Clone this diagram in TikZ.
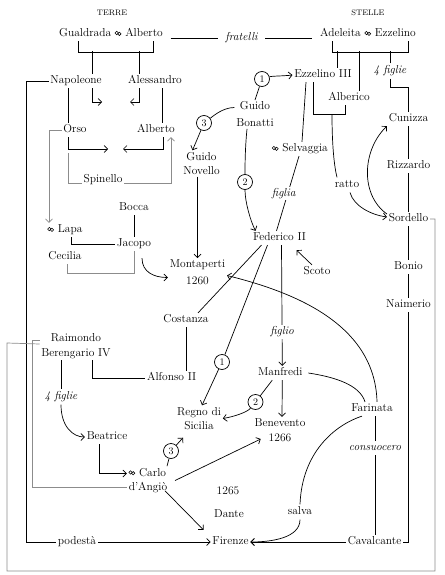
\documentclass[tikz,border=0pt]{standalone}
\usepackage{fontspec}
\usepackage{pict2e}
\usetikzlibrary{arrows.meta, calc}
\newcommand{\wed}{{\setlength{\unitlength}{1pt}\linethickness{0.55pt}%
  \begin{picture}(6.6,5)(-1.8,-1)\put(0,2.7){\circle{3.4}}\put(2.6,1.9){\circle{3.4}}\end{picture}}}

\begin{document}
\begin{tikzpicture}[x=1pt,y=-1pt,line width=0.7pt,
    font=\fontsize{11.5}{14.5}\selectfont,
    pers/.style={inner sep=1.5pt,text height=8pt,text depth=2.5pt},
    two/.style={inner sep=1.5pt,align=center},
    head/.style={font=\fontsize{8}{9}\selectfont},
    lbl/.style={fill=white,inner sep=2pt,text height=8pt,text depth=2.5pt},
    ilbl/.style={lbl,font=\fontsize{11.5}{14.5}\selectfont\itshape},
    num/.style={circle,draw,fill=white,inner sep=0pt,minimum size=15pt,
                font=\fontsize{10}{12}\selectfont},
    arr/.style={-{Straight Barb[length=3.5pt,width=7pt]}},
    gry/.style={draw=black!45},
    garr/.style={arr,gry}
  ]
  \useasboundingbox (0,0) rectangle (444,575);

  % Terre
  \node[head] (terre) at (112,13) {TERRE};
  \node[pers] (gual) at (111,34) {Gualdrada \wed\ Alberto};
  \node[pers] (napo) at (76,81) {Napoleone};
  \node[pers] (ales) at (155,81) {Alessandro};
  \node[pers] (orso) at (75,130) {Orso};
  \node[pers] (albt) at (156,130) {Alberto};
  \node[pers] (spin) at (103,180) {Spinello};
  \node[pers] (bocca) at (134,208) {Bocca};
  \node[pers] (lapa) at (65,230) {\wed\ Lapa};
  \node[pers] (jacopo) at (134,244) {Jacopo};
  \node[pers] (cecilia) at (65,257) {Cecilia};
  \node[two] (guidon) at (201.5,163.5) {Guido\\Novello};
  \node[two] (monta) at (197.5,272.5) {Montaperti\\[2.5pt]1260};
  \node[pers] (costanza) at (186,320) {Costanza};
  \node[two] (raimondo) at (76,346) {Raimondo\\Berengario IV};
  \node[pers] (alfonso) at (171.7,378) {Alfonso II};
  \node[ilbl] (figlieb) at (61,397) {4 figlie};
  \node[pers] (beatrice) at (107,437) {Beatrice};
  \node[two,align=left] (carlo) at (148,480.5) {\wed\ Carlo\\d'Angiò};
  \node[two] (regno) at (199,418.5) {Regno di\\Sicilia};
  \node[pers] (anno) at (228,492) {1265};
  \node[pers] (dante) at (229,515) {Dante};
  \node[pers] (fire) at (230.5,542) {Firenze};
  \node[lbl] (pod) at (77,542) {podestà};

  % Stelle
  \node[head] (stelle) at (368,13) {STELLE};
  \node[pers] (adel) at (368,34) {Adeleita \wed\ Ezzelino};
  \node[pers] (ezz3) at (323,75) {Ezzelino III};
  \node[pers] (alberico) at (349,98) {Alberico};
  \node[ilbl] (figlie) at (390,71) {4 figlie};
  \node[two] (guidob) at (255,114.5) {Guido\\[2.5pt]Bonatti};
  \node[pers] (cunizza) at (408.5,119) {Cunizza};
  \node[pers] (rizzardo) at (408.5,166) {Rizzardo};
  \node[pers] (sordello) at (408.5,219) {Sordello};
  \node[pers] (bonio) at (408.5,267) {Bonio};
  \node[pers] (naimerio) at (408.5,305) {Naimerio};
  \node[pers] (selv) at (300,149) {\wed\ Selvaggia};
  \node[lbl] (ratto) at (347,185) {ratto};
  \node[pers] (federico) at (279.5,238) {Federico II};
  \node[pers] (scoto) at (317,272) {Scoto};
  \node[pers] (manfredi) at (280.3,373) {Manfredi};
  \node[two] (beneve) at (280,430) {Benevento\\1266};
  \node[pers] (farinata) at (372,409) {Farinata};
  \node[lbl] (salva) at (300,512) {salva};
  \node[pers] (cav) at (374.5,542) {Cavalcante};

  \node[num] (c1a) at (262,79) {1};
  \node[num] (c3a) at (204,123) {3};
  \node[num] (c2a) at (245,182) {2};
  \node[num] (c1b) at (222,362) {1};
  \node[num] (c2b) at (255.5,402) {2};
  \node[num] (c3b) at (171,451) {3};

  \coordinate (ka) at (102,102);
  \coordinate (kb) at (130,102);
  \coordinate (kc) at (108,149);
  \coordinate (kd) at (123,149);
  \coordinate (fse) at (435,571);
  \coordinate (fw) at (7,343);

  % Terre connectors
  \draw ([xshift=-33pt]gual.south) -- ++(0,11) -| ([xshift=42pt]gual.south);
  \draw ([xshift=16pt]napo.north) -- ++(0,-22.5); \draw ([xshift=-16pt]ales.north) -- ++(0,-22.5);
  \draw[arr] ([xshift=16pt]napo.south) |- (ka); \draw[arr] ([xshift=-16pt]ales.south) |- (kb);
  \draw[shorten <=6pt,shorten >=6pt] ([yshift=-4pt]gual.east) -- node[ilbl,inner xsep=7pt]{fratelli} ([yshift=-4pt]adel.west);
  \draw ([xshift=-8pt]napo.south) -- ([xshift=-7pt]orso.north);
  \draw ([xshift=7pt]ales.south) -- ([xshift=6pt]albt.north);
  \draw[garr] (orso.west) -| ([xshift=-16pt]lapa.north);
  \draw[arr] ([xshift=-7pt]orso.south) |- (kc); \draw[arr] ([xshift=7pt]albt.south) |- (kd);
  \draw[gry] ([xshift=-7pt]orso.south) ++(0,16) |- ([yshift=-3pt]spin.west);
  \draw[garr] ([yshift=-3pt]spin.east) -| ([xshift=15pt]albt.south);
  \draw (napo.west) -- ++(-22,0) |- (pod.west); \draw[arr] (pod.east) -- (fire.west);
  \draw (bocca) -- (jacopo);
  \draw ([xshift=6pt]lapa.south) |- (jacopo.west);
  \draw[gry] ([xshift=2pt]cecilia.south) -- ++(0,9) -| (jacopo.south);
  \draw[arr] ($(jacopo.south)+(8,7)$) .. controls +(0,14) and +(-14,0) .. ([yshift=-5pt]monta.west);
  \draw[arr] (guidon.south -| monta.north) -- (monta.north);

  % Stelle connectors
  \draw ([xshift=-36pt]adel.south) -- ++(0,11) -| ([xshift=40pt]adel.south);
  \draw ([xshift=14pt]ezz3.north) -- ++(0,-16.5);
  \draw ([xshift=10pt]alberico.north) -- ++(0,-39.5);
  \draw (figlie.north) -- ++(0,-12.5);
  \draw (figlie.south) -- ++(0,9) -| (cunizza.north);
  \draw (cunizza) -- (rizzardo) -- (sordello) -- (bonio) -- (naimerio) |- (cav.east);
  \draw ([xshift=-17pt]ezz3.south) -- ([xshift=2pt]selv.north);
  \draw ([xshift=-1pt]selv.south) -- node[ilbl,xshift=-4pt,inner sep=1pt]{figlia} ([xshift=-3pt]federico.north);
  \draw ([xshift=-10pt]ezz3.south) -- ++(0,32) coordinate (eb) -| ([xshift=-4pt]alberico.south);
  \draw ($(eb)+(19,0)$) .. controls +(0,30) and +(-3,-12) .. ([xshift=-10pt]ratto.north);
  \draw[arr] ([xshift=3pt]ratto.south) .. controls +(4,14) and +(-15,-2) .. ([yshift=2pt]sordello.west);
  \draw[arr] ([yshift=5pt]sordello.west) .. controls (360,195) and (362,150) .. (cunizza.south west);
  \draw[gry] (sordello.east) -| (fse) -| (fw) -- ([yshift=2pt]raimondo.west);

  \draw (guidob.north) -- (c1a);
  \draw[arr] (c1a) .. controls +(10,-3) and +(-8,1) .. (ezz3.west);
  \draw ([yshift=7pt]guidob.west) .. controls +(-12,0) and +(8,-6) .. (c3a);
  \draw[arr] (c3a) -- ([xshift=-9pt]guidon.north);
  \draw ([xshift=-8pt]guidob.south) .. controls +(-2,20) and +(0,-15) .. (c2a);
  \draw[arr] (c2a) .. controls +(0,20) and +(-5,-10) .. ([xshift=-24pt]federico.north);

  \draw[arr] ($(scoto.north)+(-5,0)$) -- ($(federico.south)+(17,5)$);
  \draw ([xshift=-18pt]federico.south) -- ([xshift=12pt]costanza.north);
  \draw ([xshift=-12pt]federico.south) -- (c1b); \draw[arr] (c1b) -- ([xshift=3pt]regno.north);
  \draw[arr] ([xshift=2pt]federico.south) -- node[ilbl,pos=0.72]{figlio} ([xshift=2pt]manfredi.north);
  \draw (costanza.south) -- (costanza.south |- alfonso.north);
  \draw ([xshift=16pt]raimondo.south) |- (alfonso.west);
  \draw ([xshift=-15pt]raimondo.south) -- (figlieb.north);
  \draw[arr] (figlieb.south) .. controls +(0,22) and +(-12,0) .. (beatrice.west);
  \draw[arr] ([xshift=-8pt]beatrice.south) |- ([yshift=7pt]carlo.west);
  \draw[gry] ([yshift=6pt]raimondo.west) -- ++(-7.5,0) |- ([yshift=-7pt]carlo.west);

  \draw[arr] ([xshift=2pt]manfredi.south) -- ([xshift=2pt]beneve.north);
  \draw ([xshift=-8pt]manfredi.south) -- (c2b);
  \draw[arr] (c2b) .. controls +(-8,10) and +(12,-2) .. (regno.east);
  \draw ([xshift=19pt]carlo.north) -- (c3b); \draw[arr] (c3b) -- ($(regno.south)+(-16,6)$);
  \draw[arr] ($(carlo.east)+(6,0)$) -- ($(beneve.west)+(8,9)$);
  \draw[arr] ($(carlo.south)+(17,-4)$) -- ($(fire.north)+(-27,-5)$);
  \draw[arr] (cav.west) -- (fire.east);
  \draw ([xshift=4pt]manfredi.east) .. controls (335,377) and (360,385) .. ([xshift=-7pt]farinata.north);
  \draw[arr] ([xshift=5pt]farinata.north) .. controls (375,320) and (285,290) .. ([yshift=-3pt]monta.east);
  \draw ([xshift=-10pt]farinata.south) .. controls (335,425) and (302,452) .. (salva.north);
  \draw[arr] (salva.south) .. controls +(0,18) and +(22,0) .. (fire.east);
  \draw ([xshift=3pt]farinata.south) -- node[ilbl,pos=0.27]{consuocero} ([xshift=0.5pt]cav.north);
\end{tikzpicture}
\end{document}
